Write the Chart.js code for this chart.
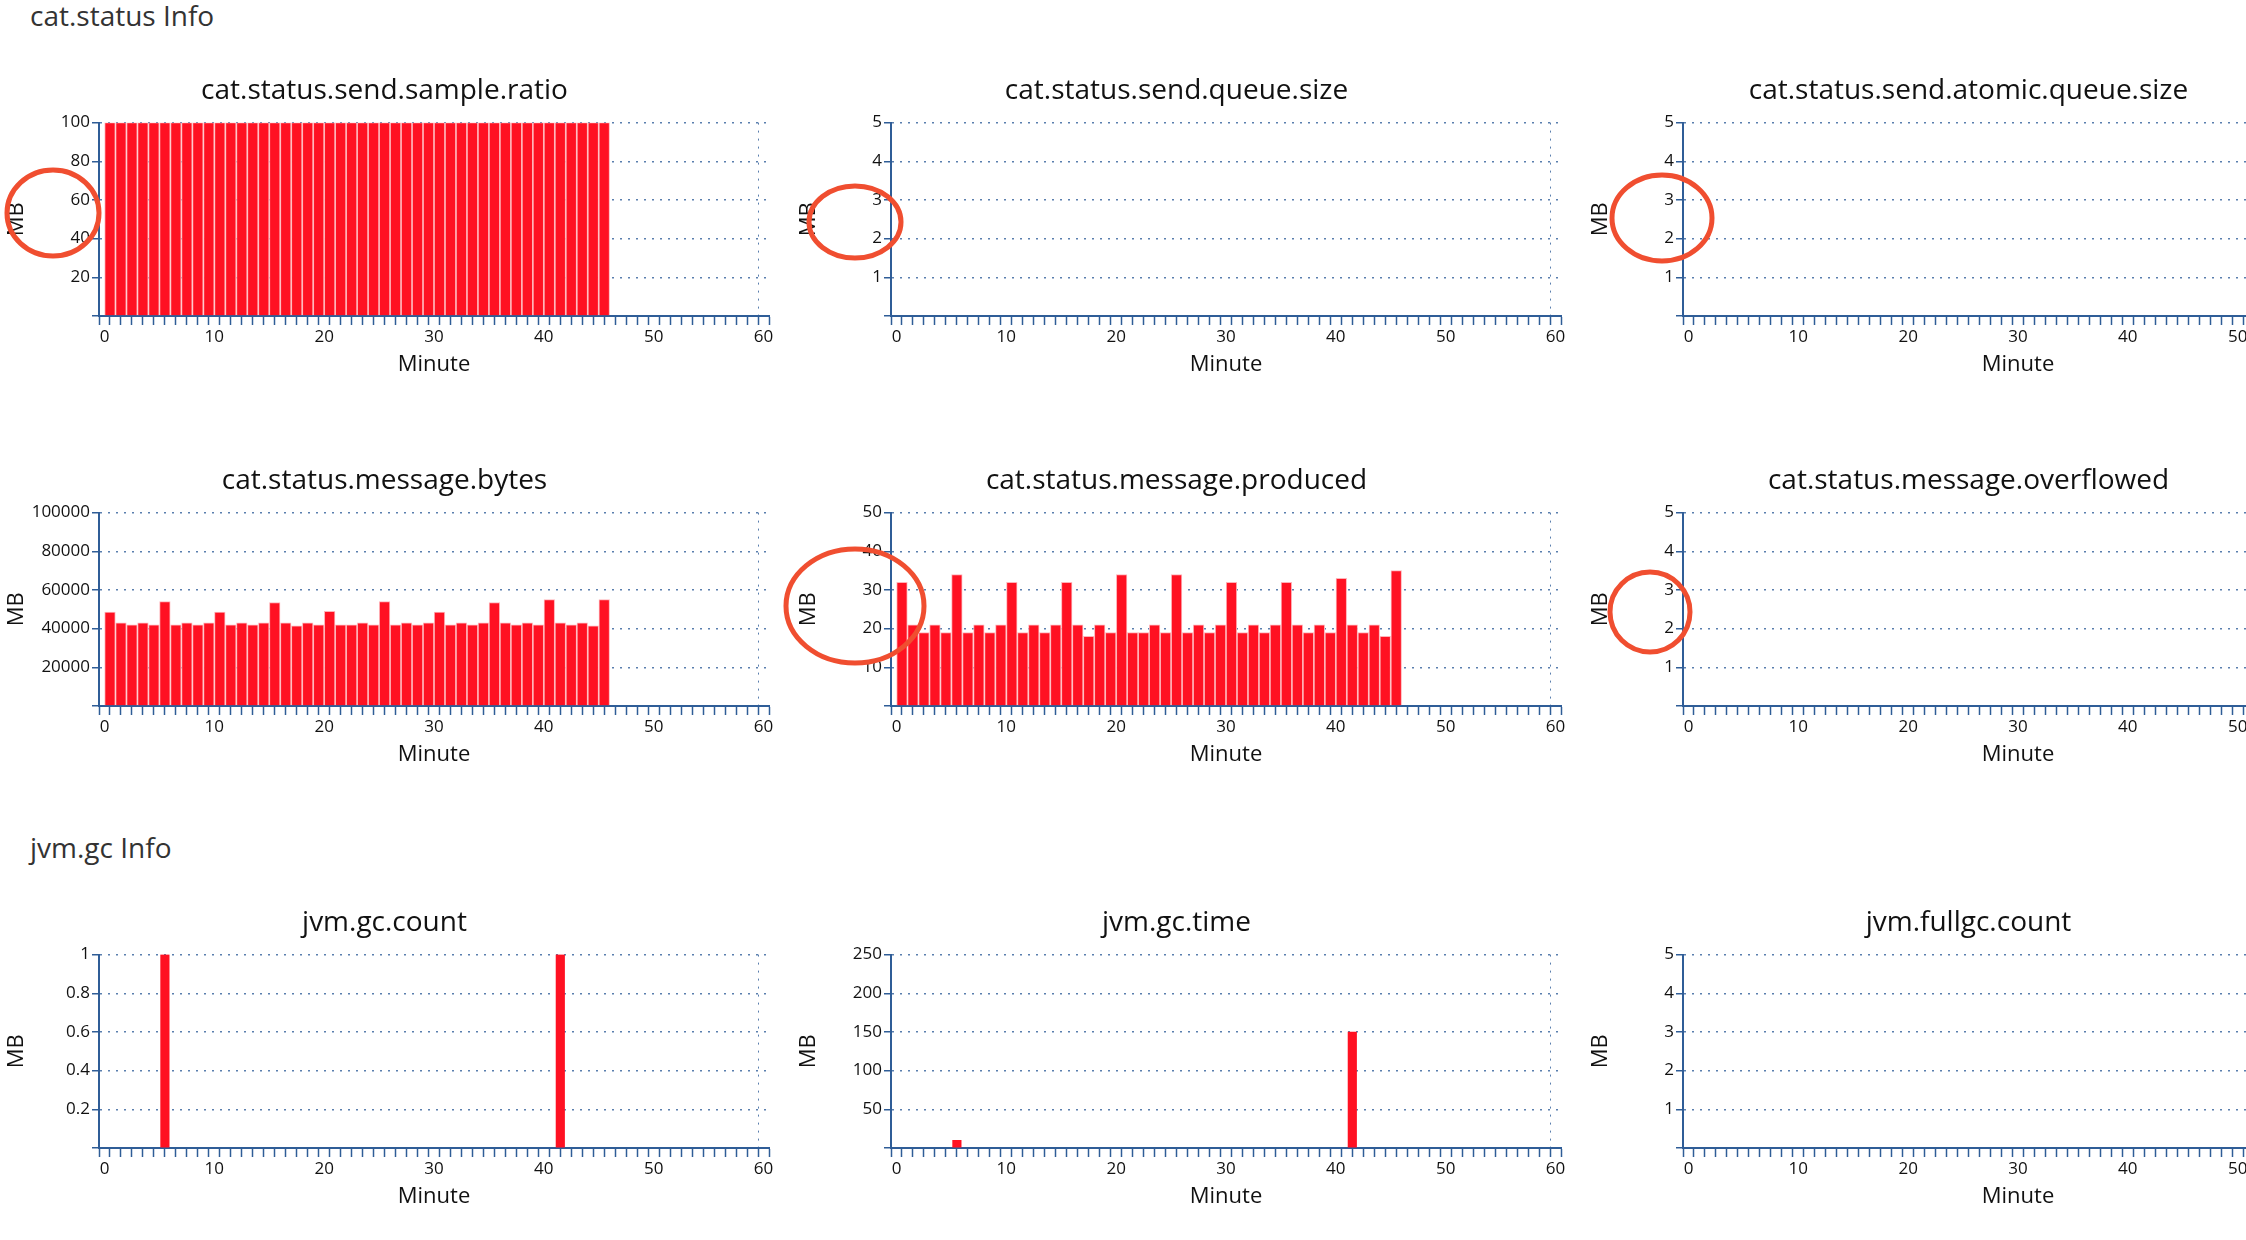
<!DOCTYPE html>
<html>
<head>
<meta charset="utf-8">
<script src="https://cdn.jsdelivr.net/npm/chart.js@4/dist/chart.umd.min.js"></script>
<style>
  html, body { margin: 0; padding: 0; background: #fff; width: 2246px; height: 1240px; overflow: hidden; position: relative; }
  .hdr { position: absolute; left: 30px; font: 28px "Open Sans", sans-serif; color: #333; }
  .box { position: absolute; width: 784px; height: 312px; }
  #overlay { position: absolute; left: 0; top: 0; pointer-events: none; }
</style>
</head>
<body>
<div class="hdr" style="top:-4px">cat.status Info</div>
<div class="hdr" style="top:828px">jvm.gc Info</div>

<div class="box" style="left:0;top:70px"><canvas id="c1"></canvas></div>
<div class="box" style="left:792px;top:70px"><canvas id="c2"></canvas></div>
<div class="box" style="left:1584px;top:70px"><canvas id="c3"></canvas></div>
<div class="box" style="left:0;top:460px"><canvas id="c4"></canvas></div>
<div class="box" style="left:792px;top:460px"><canvas id="c5"></canvas></div>
<div class="box" style="left:1584px;top:460px"><canvas id="c6"></canvas></div>
<div class="box" style="left:0;top:902px"><canvas id="c7"></canvas></div>
<div class="box" style="left:792px;top:902px"><canvas id="c8"></canvas></div>
<div class="box" style="left:1584px;top:902px"><canvas id="c9"></canvas></div>
<canvas id="overlay" width="2246" height="1240"></canvas>

<script>
// minutes with data
const minutes = [0,1,2,3,4,5,6,7,8,9,10,11,12,13,14,15,16,17,18,19,20,21,22,23,24,25,26,27,28,29,
                 30,31,32,33,34,35,36,37,38,39,40,41,42,43,44,45];

const sampleRatio = [100,100,100,100,100,100,100,100,100,100,100,100,100,100,100,100,100,100,100,100,100,100,100,
                     100,100,100,100,100,100,100,100,100,100,100,100,100,100,100,100,100,100,100,100,100,100,100];

const messageBytes = [48500,43000,42000,43000,42000,54000,42000,43000,42000,43000,
                      48500,42000,43000,42000,43000,53500,43000,41500,43000,42000,
                      49000,42000,42000,43000,42000,54000,42000,43000,42000,43000,
                      48500,42000,43000,42000,43000,53500,43000,42000,43000,42000,
                      55000,43000,42000,43000,41500,55000];

const messageProduced = [32,21,19,21,19,34,19,21,19,21,
                         32,19,21,19,21,32,21,18,21,19,
                         34,19,19,21,19,34,19,21,19,21,
                         32,19,21,19,21,32,21,19,21,19,
                         33,21,19,21,18,35];

const gcMinutes = [5, 41];
const gcCount = [1, 1];
const gcTime = [10, 150];

const AXIS = '#2f5d97';
const GRID = '#5a7fae';
const RED = '#ff1122';
const FONT = '"Open Sans", sans-serif';

function pts(xs, ys) { return xs.map((m, i) => ({ x: m + 0.5, y: ys[i] })); }

function makeChart(id, title, data, yMax, yStep, barW) {
  new Chart(document.getElementById(id), {
    type: 'bar',
    data: {
      datasets: [{
        data: data,
        backgroundColor: RED,
        borderColor: '#ffb3b8',
        borderWidth: barW > 9 ? 1 : 0,
        barThickness: barW,
        grouped: false,
      }]
    },
    options: {
      responsive: true,
      maintainAspectRatio: false,
      animation: false,
      layout: { padding: { right: 15 } },
      plugins: {
        legend: { display: false },
        tooltip: { enabled: false },
        title: {
          display: true, text: title, color: '#111',
          font: { family: FONT, size: 28, weight: 'normal' },
          padding: { top: 4, bottom: 15 }
        }
      },
      scales: {
        x: {
          type: 'linear', min: 0, max: 60,
          afterFit: s => { s.height = 66; },
          ticks: {
            stepSize: 1, autoSkip: false, maxRotation: 0, color: '#111',
            font: { family: FONT, size: 17 }, padding: 2,
            callback: v => (v % 10 === 0 ? v : '')
          },
          grid: {
            drawOnChartArea: true, tickLength: 9, tickColor: AXIS, tickWidth: 1.5,
            color: c => (c.tick && c.tick.value === 60 ? GRID : 'rgba(0,0,0,0)')
          },
          border: { display: true, color: AXIS, width: 2, dash: [2, 6] },
          title: { display: true, text: 'Minute', color: '#111', font: { family: FONT, size: 22 }, padding: { top: 2 } }
        },
        y: {
          min: 0, max: yMax,
          afterFit: s => { s.width = 99; },
          ticks: {
            stepSize: yStep, color: '#111', font: { family: FONT, size: 17 }, padding: 2,
            callback: v => (v === 0 ? '' : Math.round(v * 10) / 10)
          },
          grid: {
            drawOnChartArea: true, tickLength: 7, tickColor: AXIS, tickWidth: 1.5,
            color: c => (c.tick && c.tick.value === 0 ? 'rgba(0,0,0,0)' : GRID), lineWidth: 1.5
          },
          border: { display: true, color: AXIS, width: 2, dash: [2, 6] },
          title: { display: true, text: 'MB', color: '#111', font: { family: FONT, size: 22 }, padding: { bottom: 6 } }
        }
      }
    }
  });
}

makeChart('c1', 'cat.status.send.sample.ratio', pts(minutes, sampleRatio), 100, 20, 10.6);
makeChart('c2', 'cat.status.send.queue.size', [], 5, 1, 10.6);
makeChart('c3', 'cat.status.send.atomic.queue.size', [], 5, 1, 10.6);
makeChart('c4', 'cat.status.message.bytes', pts(minutes, messageBytes), 100000, 20000, 10.6);
makeChart('c5', 'cat.status.message.produced', pts(minutes, messageProduced), 50, 10, 10.6);
makeChart('c6', 'cat.status.message.overflowed', [], 5, 1, 10.6);
makeChart('c7', 'jvm.gc.count', pts(gcMinutes, gcCount), 1, 0.2, 8.5);
makeChart('c8', 'jvm.gc.time', pts(gcMinutes, gcTime), 250, 50, 8.5);
makeChart('c9', 'jvm.fullgc.count', [], 5, 1, 10.6);

// red annotation circles
const ov = document.getElementById('overlay').getContext('2d');
ov.strokeStyle = '#f04e30';
ov.lineWidth = 5;
[[53, 213, 46, 43], [855, 222, 46, 36], [1662, 218, 50, 43], [855, 606, 69, 57], [1650, 612, 40, 40]]
  .forEach(([x, y, rx, ry]) => { ov.beginPath(); ov.ellipse(x, y, rx, ry, 0, 0, Math.PI * 2); ov.stroke(); });
</script>
</body>
</html>
